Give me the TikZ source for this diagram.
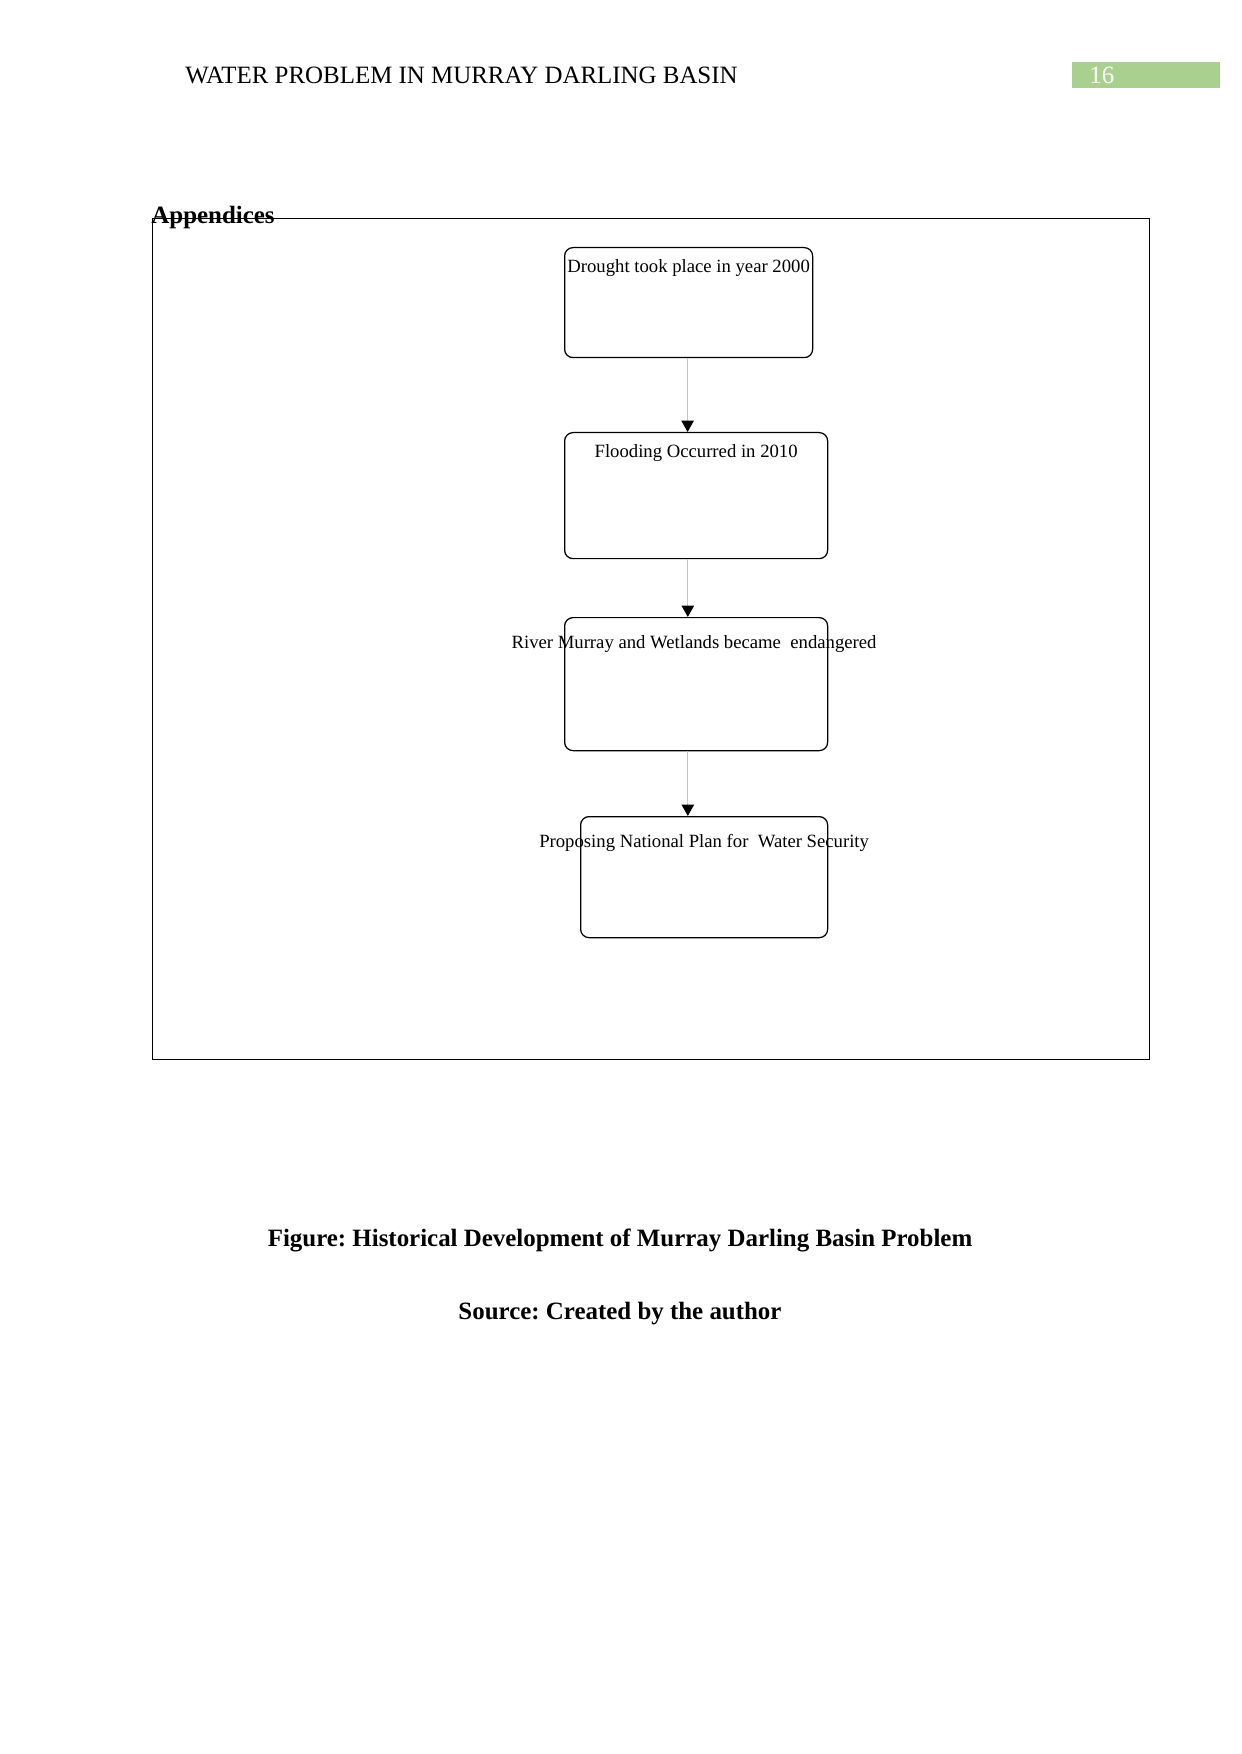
\documentclass[tikz,border=0pt]{standalone}
\usepackage{fontspec}
\setmainfont{Liberation Serif}
\frenchspacing
\usetikzlibrary{arrows.meta, positioning}

\definecolor{pagegreen}{HTML}{A9D08E}
\newcommand{\pxu}{0.016922cm}

\begin{document}
\begin{tikzpicture}[x=0.016922cm, y=-0.016922cm]

% Page size
\useasboundingbox (0,0) rectangle (1241,1754);

% Define block styles
\tikzstyle{stage} = [rectangle, draw, rounded corners=4pt, line width=0.6pt, anchor=north west, inner sep=0pt]
\tikzstyle{stagetext} = [font=\fontsize{9}{11}\selectfont, inner sep=0pt]
\tikzstyle{arrow} = [draw=gray!45, line width=0.6pt, -{Triangle[length=5.5pt, width=6pt, black]}]
\tikzstyle{heading} = [font=\fontsize{12}{14}\selectfont, inner sep=0pt]

% Header
\node (header) [heading, anchor=base west] at (185,84) {WATER PROBLEM IN MURRAY DARLING BASIN};
\node (pagebox) [fill=pagegreen, anchor=north west, minimum width=148*\pxu, minimum height=26*\pxu, inner sep=0pt] at (1072,62) {};
\node (pagenum) [heading, anchor=base west, text=white] at (1089,84) {16};

% Frame
\node (frame) [draw, line width=0.6pt, anchor=north west, minimum width=997*\pxu, minimum height=841*\pxu, inner sep=0pt] at (152,218) {};
\node (appendix) [heading, font=\fontsize{12}{14}\selectfont\bfseries, anchor=base west] at (151,224) {Appendices};

% Nodes
\node (drought) [stage, minimum width=248*\pxu, minimum height=110*\pxu] at (564,247) {};
\node (flood) [stage, minimum width=263*\pxu, minimum height=126*\pxu] at (564,432) {};
\node (river) [stage, minimum width=263*\pxu, minimum height=133*\pxu] at (564,617) {};
\node (plan) [stage, minimum width=247*\pxu, minimum height=121*\pxu] at (580,816) {};

% Texts
\node (droughttext) [stagetext, below=12*\pxu of drought.north] {Drought took place in year 2000};
\node (floodtext) [stagetext, below=12*\pxu of flood.north] {Flooding Occurred in 2010};
\node (rivertext) [stagetext, below=18*\pxu of river.north, xshift=-1pt] {River Murray and Wetlands became\hspace{4.5pt}endangered};
\node (plantext) [stagetext, below=18*\pxu of plan.north] {Proposing National Plan for\hspace{4.5pt}Water Security};

% Arrows
\draw [arrow] ([xshift=-0.5pt]drought.south) -- ([xshift=-0.5pt]drought.south |- flood.north);
\draw [arrow] ([xshift=-4pt]flood.south) -- ([xshift=-4pt]flood.south |- river.north);
\draw [arrow] ([xshift=-4pt]river.south) -- ([xshift=-4pt]river.south |- plan.north);

% Caption
\node (figcaption) [heading, font=\fontsize{12}{14}\selectfont\bfseries, anchor=base] at (620,1246) {Figure: Historical Development of Murray Darling Basin Problem};
\node (source) [heading, font=\fontsize{12}{14}\selectfont\bfseries, anchor=base] at (620,1319) {Source: Created by the author};

\end{tikzpicture}
\end{document}
